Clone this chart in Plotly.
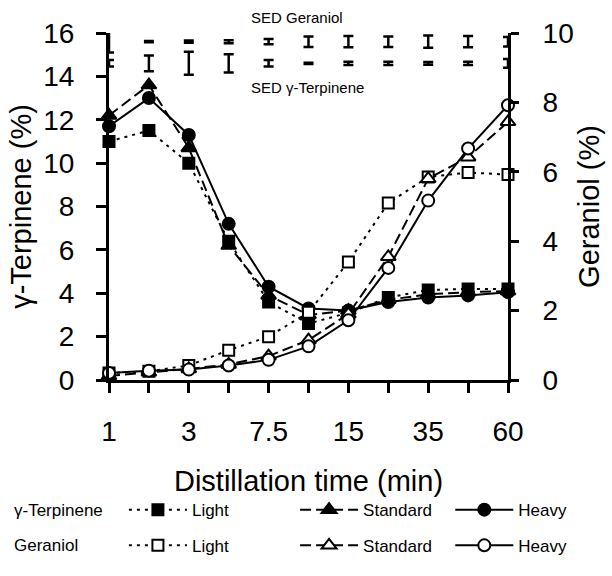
import plotly.graph_objects as go

# ---- data ----
time_labels = ["1", "2", "3", "5", "7.5", "10", "15", "25", "35", "45", "60"]
shown_labels = ["1", "", "3", "", "7.5", "", "15", "", "35", "", "60"]
idx = list(range(len(time_labels)))

terp_light = [11.0, 11.5, 10.0, 6.4, 3.6, 2.6, 3.1, 3.8, 4.15, 4.2, 4.2]
terp_standard = [12.2, 13.6, 10.7, 6.2, 3.9, 3.0, 3.2, 3.7, 3.95, 4.05, 4.1]
terp_heavy = [11.7, 13.0, 11.3, 7.2, 4.3, 3.3, 3.2, 3.6, 3.8, 3.9, 4.05]

ger_light = [0.2, 0.25, 0.42, 0.86, 1.25, 1.95, 3.4, 5.1, 5.85, 5.98, 5.92]
ger_standard = [0.12, 0.22, 0.32, 0.45, 0.69, 1.15, 1.9, 3.55, 5.8, 6.42, 7.44]
ger_heavy = [0.2, 0.27, 0.3, 0.42, 0.58, 0.97, 1.72, 3.23, 5.17, 6.67, 7.92]

# SED half-lengths (in left-axis units, as drawn)
sed_geraniol = [0.5, 0.03, 0.05, 0.07, 0.12, 0.24, 0.26, 0.24, 0.28, 0.26, 0.22]
sed_terpinene = [0.15, 0.36, 0.53, 0.42, 0.15, 0.03, 0.07, 0.07, 0.06, 0.07, 0.2]

FONT = "Liberation Sans, Arial, sans-serif"
SED_ROW_GER = 15.6
SED_ROW_TERP = 14.6

fig = go.Figure()

DOT = "3px,5px"
DASH = "11px,5px"

series = [
    (terp_light, "Light", "square", "black", DOT, "y", "legend"),
    (terp_standard, "Standard", "triangle-up", "black", DASH, "y", "legend2"),
    (terp_heavy, "Heavy", "circle", "black", "solid", "y", "legend3"),
    (ger_light, "Light", "square", "white", DOT, "y2", "legend4"),
    (ger_standard, "Standard", "triangle-up", "white", DASH, "y2", "legend5"),
    (ger_heavy, "Heavy", "circle", "white", "solid", "y2", "legend6"),
]
sizes = {"square": 11, "triangle-up": 13, "circle": 12}
for vals, name, sym, fill, dash, yax, leg in series:
    fig.add_trace(go.Scatter(
        x=idx, y=vals, name=name, yaxis=yax, legend=leg,
        mode="lines+markers", cliponaxis=False,
        line=dict(color="black", width=2, dash=dash),
        marker=dict(symbol=sym, size=sizes[sym], color=fill,
                    line=dict(color="black", width=2)),
    ))

for row, sed in [(SED_ROW_GER, sed_geraniol), (SED_ROW_TERP, sed_terpinene)]:
    fig.add_trace(go.Scatter(
        x=idx, y=[row] * len(idx), mode="markers", showlegend=False,
        cliponaxis=False, marker=dict(size=0.1, color="black"),
        error_y=dict(type="data", array=sed, visible=True, color="black",
                     thickness=2.5, width=5),
    ))

axis_common = dict(showline=True, linewidth=3, linecolor="black", ticks="outside",
                   tickwidth=3, tickcolor="black", showgrid=False, zeroline=False,
                   tickfont=dict(family=FONT, size=28, color="black"))
TITLE_FONT = dict(family=FONT, size=29, color="black")

fig.update_layout(
    width=612, height=576,
    margin=dict(l=109, r=102, t=33, b=183),
    paper_bgcolor="white", plot_bgcolor="white",
    font=dict(family=FONT, color="black"),
    xaxis=dict(range=[0, 10], tickvals=idx, ticktext=shown_labels, ticklen=10,
               ticklabelstandoff=14,
               title=dict(text="Distillation time (min)", standoff=26, font=TITLE_FONT),
               **axis_common),
    yaxis=dict(range=[0, 16], dtick=2, ticklen=10, ticklabelstandoff=16,
               title=dict(text="γ-Terpinene (%)", standoff=4, font=TITLE_FONT),
               **axis_common),
    yaxis2=dict(range=[0, 10], dtick=2, ticklen=8, overlaying="y", side="right",
                ticklabelstandoff=18,
                title=dict(text="Geraniol (%)", standoff=6, font=TITLE_FONT),
                **axis_common),
)

# legends: one per entry, arranged in two rows
PX0, PW, PY0, PH = 109, 401, 33, 360
def px_x(p):
    return (p - PX0) / PW
def px_y(p):
    return (PY0 + PH - p) / PH

leg_x = [124, 296, 452]
leg_y = [528, 565]
names = ["legend", "legend2", "legend3", "legend4", "legend5", "legend6"]
for k, nm in enumerate(names):
    r, c = divmod(k, 3)
    fig.update_layout({nm: dict(
        x=px_x(leg_x[c]), y=px_y(leg_y[r]), xanchor="left", yanchor="middle",
        orientation="h", itemwidth=58, bgcolor="rgba(0,0,0,0)",
        font=dict(family=FONT, size=17, color="black"),
    )})

annotations = [
    dict(text="γ-Terpinene", x=px_x(12), y=px_y(leg_y[0])),
    dict(text="Geraniol", x=px_x(12), y=px_y(leg_y[1])),
]
for a in annotations:
    fig.add_annotation(xref="paper", yref="paper", xanchor="left", yanchor="middle",
                       showarrow=False, font=dict(family=FONT, size=17, color="black"), **a)

fig.add_annotation(text="SED Geraniol", xref="x", x=3.5, yref="paper", y=px_y(17),
                   xanchor="left", yanchor="middle", showarrow=False,
                   font=dict(family=FONT, size=15, color="black"))
fig.add_annotation(text="SED γ-Terpinene", xref="x", x=3.5, yref="paper", y=px_y(90),
                   xanchor="left", yanchor="middle", showarrow=False,
                   font=dict(family=FONT, size=15, color="black"))

fig.write_html("out.html")
